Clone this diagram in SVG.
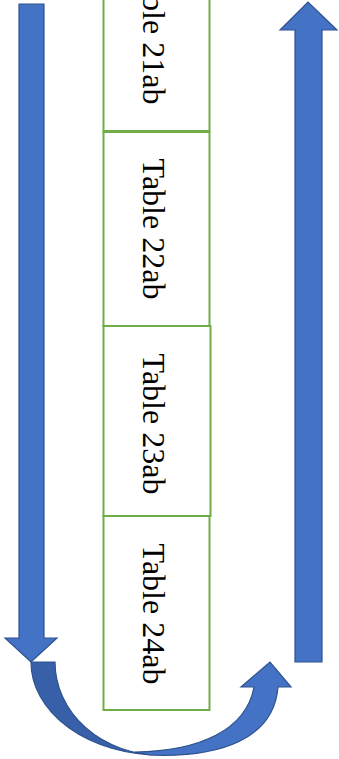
<svg xmlns="http://www.w3.org/2000/svg" width="339" height="759" viewBox="0 0 339 759">
<style>
.box{fill:#FFFFFF;stroke:#70AD47;stroke-width:2}
.lbl{font-family:"Liberation Serif","Times New Roman",serif;font-size:32px;fill:#000000;text-anchor:middle}
.arr{fill:#4472C4;stroke:#2F528F;stroke-width:1.2;stroke-linejoin:miter}
.dark{fill:#3760A8;stroke:#2F528F;stroke-width:1.2}
</style>
<rect width="339" height="759" fill="#FFFFFF"/>
<g id="table21ab">
<rect class="box" x="103.5" y="-64" width="106" height="195"/>
<text class="lbl" transform="translate(143,34) rotate(90)">Table 21ab</text>
</g>
<g id="table22ab">
<rect class="box" x="103.5" y="132" width="106" height="194"/>
<text class="lbl" transform="translate(143,229) rotate(90)">Table 22ab</text>
</g>
<g id="table23ab">
<rect class="box" x="103.5" y="326" width="107" height="190"/>
<text class="lbl" transform="translate(143,424) rotate(90)">Table 23ab</text>
</g>
<g id="table24ab">
<rect class="box" x="103.5" y="516" width="106" height="194"/>
<text class="lbl" transform="translate(143,614) rotate(90)">Table 24ab</text>
</g>
<g id="connectors">
<path id="down-arrow" class="arr" d="M19,4 L44,4 L44,638 L57,638 L31,662 L5,638 L19,638 Z"/>
<path id="up-arrow" class="arr" d="M295,662 L322,662 L322,30 L337,30 L308,2 L280,30 L295,30 Z"/>
<g id="curved-arrow">
<path class="dark" d="M31,662 A129 93 0 0 0 160,755 A105 93 0 0 1 55,662 Z"/>
<path class="arr" d="M150,755 C222,758 274,738 278,687 L291,687 L270,662 L241,687 L254,687 C246,730 200,751 135,752 Z"/>
</g>
</g>
</svg>
